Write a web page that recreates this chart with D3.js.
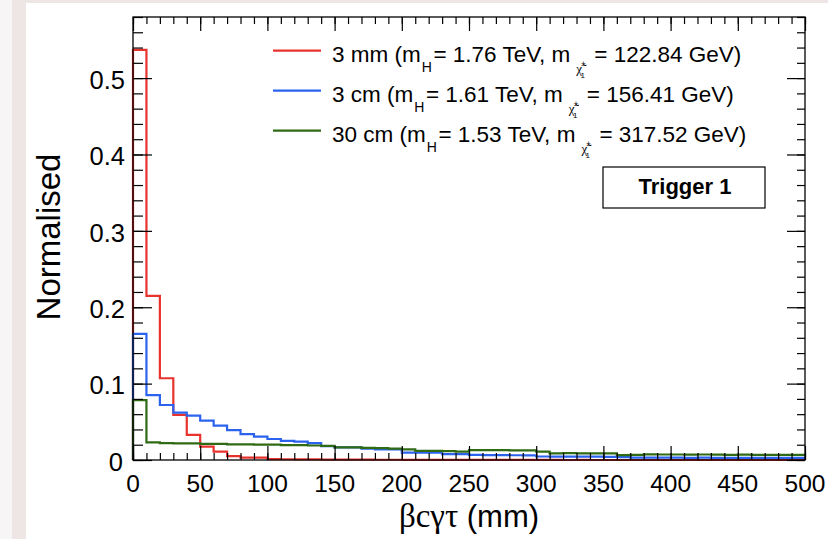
<!DOCTYPE html>
<html>
<head>
<meta charset="utf-8">
<script src="https://cdn.jsdelivr.net/npm/d3@7"></script>
<style>
  body { margin: 0; background: #fff; }
  text { font-family: "Liberation Sans", Arial, Helvetica, sans-serif; fill: #000; }
</style>
</head>
<body>
<div id="chart"></div>
<script>
// Bins: 10 mm wide, 0 - 500 mm
const binEdges = d3.range(0, 510, 10);

// 3 mm sample (red)
const red3mm = [0.537, 0.215, 0.107, 0.059, 0.033, 0.0175, 0.011, 0.005, 0.003, 0.003,
  0.0012, 0.001, 0.0009, 0.0007, 0.0006, 0.0005, 0.0004, 0.0004, 0.0003, 0.0003,
  0.0002, 0.0002, 0.0002, 0.0002, 0.0001, 0.0001, 0.0001, 0.0001, 0.0001, 0.0001,
  0.0001, 0.0001, 0, 0.0001, 0, 0, 0, 0, 0, 0,
  0, 0, 0, 0, 0, 0, 0, 0, 0, 0];

// 3 cm sample (blue)
const blue3cm = [0.165, 0.085, 0.072, 0.062, 0.058, 0.0515, 0.045, 0.039, 0.034, 0.0305,
  0.0275, 0.025, 0.024, 0.022, 0.018, 0.0166, 0.0165, 0.0148, 0.014, 0.014,
  0.0096, 0.0096, 0.0095, 0.0078, 0.0078, 0.0068, 0.0065, 0.0065, 0.0062, 0.006,
  0.0046, 0.0045, 0.0044, 0.0044, 0.0043, 0.0042, 0.0038, 0.0032, 0.0031, 0.003,
  0.003, 0.0029, 0.003, 0.0028, 0.0029, 0.0028, 0.0027, 0.0028, 0.0027, 0.0027];

// 30 cm sample (green)
const green30cm = [0.0785, 0.023, 0.022, 0.0218, 0.0218, 0.021, 0.021, 0.0205, 0.0205, 0.02,
  0.02, 0.0196, 0.0196, 0.019, 0.0185, 0.0166, 0.0165, 0.016, 0.0155, 0.015,
  0.0138, 0.012, 0.012, 0.0115, 0.011, 0.013, 0.013, 0.013, 0.0125, 0.0125,
  0.011, 0.0088, 0.009, 0.0088, 0.0088, 0.0088, 0.0065, 0.0068, 0.0074, 0.0072,
  0.0072, 0.007, 0.0072, 0.007, 0.0068, 0.007, 0.0068, 0.0067, 0.0068, 0.0068];

const seriesNames = ["3 mm", "3 cm", "30 cm"];
const mH = ["1.76", "1.61", "1.53"];
const mChi = ["122.84", "156.41", "317.52"];
const seriesColors = ["#e8322e", "#2b63ef", "#2f6b14"];
const seriesValues = [red3mm, blue3cm, green30cm];

const xMajor = [0, 50, 100, 150, 200, 250, 300, 350, 400, 450, 500];
const yMajor = [0, 0.1, 0.2, 0.3, 0.4, 0.5];

const W = 828, H = 539;
const svg = d3.select("#chart").append("svg")
    .attr("width", W)
    .attr("height", H);

// page background / frame
svg.append("rect").attr("width", W).attr("height", H).attr("fill", "#f7f5f5");
svg.append("rect").attr("x", 12).attr("width", W - 12).attr("height", H).attr("fill", "#ede6e5");
svg.append("rect").attr("x", 26).attr("y", 3).attr("width", W - 26).attr("height", H - 3).attr("fill", "#fff");

const x = d3.scaleLinear().domain([0, 500]).range([133, 805]);
const y = d3.scaleLinear().domain([0, 0.58]).range([460, 17]);

// histograms as steps
const step = vals => {
  let p = `M${x(binEdges[0])},${y(0)}`;
  vals.forEach((v, i) => {
    p += `L${x(binEdges[i])},${y(v)}L${x(binEdges[i + 1])},${y(v)}`;
  });
  return p;
};

seriesValues.forEach((vals, i) => {
  svg.append("path")
    .attr("d", step(vals))
    .attr("fill", "none")
    .attr("stroke", seriesColors[i])
    .attr("stroke-width", 2.2);
});

// axes: ticks on all four sides, pointing inwards
const xMinor = binEdges;
const yMinor = d3.range(0, 0.581, 0.02);

function axisLines(g, axis, vals, size) {
  g.call(axis.tickValues(vals).tickSize(size).tickFormat("").tickSizeOuter(0))
    .call(s => s.selectAll("line").attr("stroke", "#000").attr("stroke-width", 1.2))
    .call(s => s.select(".domain").remove());
}

const gB = svg.append("g").attr("transform", `translate(0,${y(0)})`);
axisLines(gB.append("g"), d3.axisBottom(x), xMinor, -7);
axisLines(gB.append("g"), d3.axisBottom(x), xMajor, -14);
const gT = svg.append("g").attr("transform", `translate(0,${y(0.58)})`);
axisLines(gT.append("g"), d3.axisTop(x), xMinor, -7);
axisLines(gT.append("g"), d3.axisTop(x), xMajor, -14);
const gL = svg.append("g").attr("transform", `translate(${x(0)},0)`);
axisLines(gL.append("g"), d3.axisLeft(y), yMinor, -10);
axisLines(gL.append("g"), d3.axisLeft(y), yMajor, -19);
const gR = svg.append("g").attr("transform", `translate(${x(500)},0)`);
axisLines(gR.append("g"), d3.axisRight(y), yMinor, -8);
axisLines(gR.append("g"), d3.axisRight(y), yMajor, -18);

// frame
svg.append("rect")
  .attr("x", x(0)).attr("y", y(0.58))
  .attr("width", x(500) - x(0)).attr("height", y(0) - y(0.58))
  .attr("fill", "none").attr("stroke", "#000").attr("stroke-width", 1.3);

// tick labels
svg.append("g").selectAll("text")
  .data(xMajor).join("text")
  .attr("x", d => x(d)).attr("y", 492)
  .attr("text-anchor", "middle")
  .attr("font-size", 24.5)
  .text(d => d);

svg.append("g").selectAll("text")
  .data(yMajor).join("text")
  .attr("x", d => d === 0 ? 123 : 125)
  .attr("y", d => y(d))
  .attr("dy", "0.42em")
  .attr("text-anchor", "end")
  .attr("font-size", 25.5)
  .text(d => d === 0 ? "0" : d3.format(".1f")(d));

// axis titles
svg.append("text")
  .attr("transform", "translate(60,237) rotate(-90)")
  .attr("text-anchor", "middle")
  .attr("font-size", 33)
  .text("Normalised");

const xt = svg.append("text")
  .attr("x", 469).attr("y", 527)
  .attr("text-anchor", "middle")
  .attr("font-size", 31);
xt.append("tspan").attr("font-family", "Liberation Serif, serif").attr("font-size", 33).text("βcγτ");
xt.append("tspan").text(" (mm)");

// legend
const legY = [50.7, 90.7, 130.7];
const fs = 22.5;
seriesNames.forEach((name, i) => {
  const ly = legY[i];
  const base = ly + 11;
  svg.append("line")
    .attr("x1", 273).attr("x2", 321).attr("y1", ly).attr("y2", ly)
    .attr("stroke", seriesColors[i]).attr("stroke-width", 2.2);

  let cx = 332;
  const t1 = svg.append("text").attr("x", cx).attr("y", base).attr("font-size", fs)
    .text(`${name} (m`);
  cx += t1.node().getComputedTextLength() + 1;
  const tH = svg.append("text").attr("x", cx).attr("y", base + 10).attr("font-size", 14).text("H");
  cx += tH.node().getComputedTextLength() + 1.5;
  const t2 = svg.append("text").attr("x", cx).attr("y", base).attr("font-size", fs)
    .text(`= ${mH[i]} TeV, m`);
  cx += t2.node().getComputedTextLength() + 6;
  // chargino symbol below the m, one text with tilde, ± and 1
  const chi = svg.append("text").attr("x", cx).attr("y", base + 11).attr("font-size", 13);
  chi.append("tspan").attr("font-family", "Liberation Serif, serif").text("χ\u0303");
  chi.append("tspan").attr("font-size", 8).attr("dx", -1).attr("dy", -7).text("±");
  chi.append("tspan").attr("font-size", 8).attr("dx", -5).attr("dy", 12).text("1");
  cx += 18;
  svg.append("text").attr("x", cx).attr("y", base).attr("font-size", fs)
    .text(`= ${mChi[i]} GeV)`);
});

// Trigger label box
svg.append("rect")
  .attr("x", 603).attr("y", 167).attr("width", 162).attr("height", 41)
  .attr("fill", "#fff").attr("stroke", "#000").attr("stroke-width", 1.2);
svg.append("text")
  .attr("x", 685).attr("y", 194)
  .attr("text-anchor", "middle")
  .attr("font-size", 22).attr("font-weight", "bold")
  .text("Trigger 1");
</script>
</body>
</html>
